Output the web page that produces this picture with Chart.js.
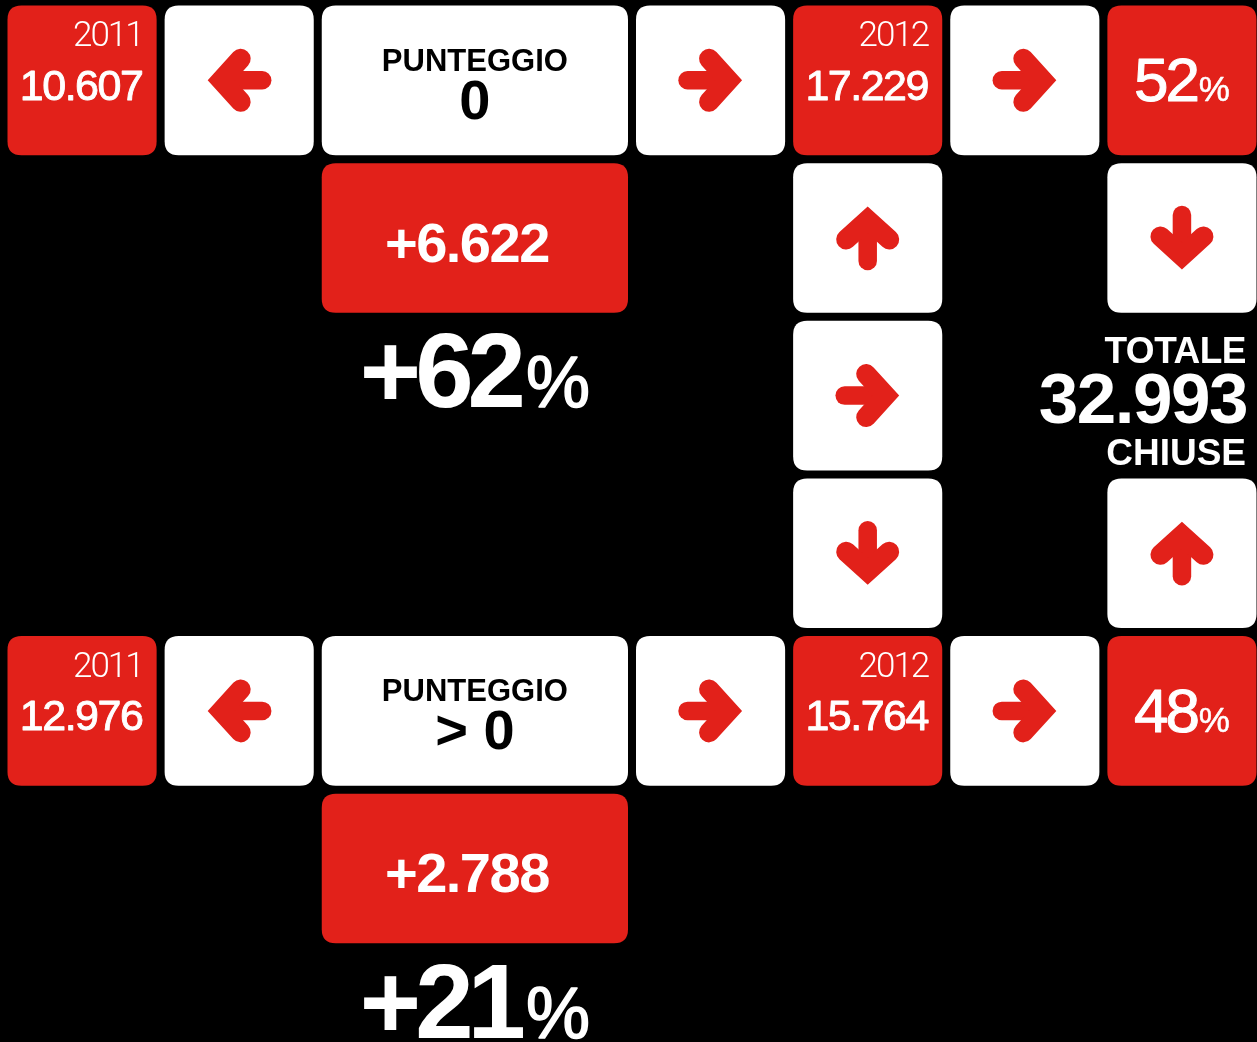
<!DOCTYPE html>
<html><head><meta charset="utf-8">
<script src="https://cdn.jsdelivr.net/npm/chart.js@4"></script>
<style>html,body{margin:0;padding:0;background:#000;overflow:hidden}#wrap{width:1257px;height:1042px}</style>
</head><body><div id="wrap"><canvas id="c" width="1257" height="1042"></canvas></div>
<script>
// ---- DATA ----
const years = ['2011', '2012'];
const scoreLabel = 'PUNTEGGIO';
const scoreGroups = ['0', '> 0'];
const closed2011 = [10607, 12976];
const closed2012 = [17229, 15764];
const changeAbs = [6622, 2788];
const changePct = [62, 21];
const share2012 = [52, 48];
const totalLabel = ['TOTALE', 'CHIUSE'];
const totalClosed = 32993;

// ---- LAYOUT (grid cells) ----
const RED = '#e2211a', WHITE = '#ffffff';
const tiles = [];
function addTile(col, row, span, fill, kind, payload) { tiles.push({col, row, span, fill, kind, payload}); }
[0, 1].forEach(g => {
  const r = g === 0 ? 0 : 4;
  addTile(0, r, 1, RED, 'yearValue', {year: years[0], value: closed2011[g]});
  addTile(1, r, 1, WHITE, 'arrow', {dir: 2});
  addTile(2, r, 2, WHITE, 'score', {label: scoreLabel, value: scoreGroups[g]});
  addTile(4, r, 1, WHITE, 'arrow', {dir: 0});
  addTile(5, r, 1, RED, 'yearValue', {year: years[1], value: closed2012[g]});
  addTile(6, r, 1, WHITE, 'arrow', {dir: 0});
  addTile(7, r, 1, RED, 'share', {pct: share2012[g]});
  addTile(2, r + 1, 2, RED, 'change', {value: changeAbs[g]});
});
addTile(5, 1, 1, WHITE, 'arrow', {dir: 3});
addTile(5, 2, 1, WHITE, 'arrow', {dir: 0});
addTile(5, 3, 1, WHITE, 'arrow', {dir: 1});
addTile(7, 1, 1, WHITE, 'arrow', {dir: 1});
addTile(7, 3, 1, WHITE, 'arrow', {dir: 3});

const pctLabels = [{col: 2, span: 2, row: 2, pct: changePct[0]}, {col: 2, span: 2, row: 6, pct: changePct[1]}];

function fmt(n) { return String(n).replace(/\B(?=(\d{3})+(?!\d))/g, '.'); }

const BOLD = '"Liberation Sans", Arial, Helvetica, sans-serif';
const LIGHT = 'Roboto, "Liberation Sans", sans-serif';

function rr(ctx, x, y, w, h, r) {
  ctx.beginPath();
  ctx.moveTo(x + r, y);
  ctx.lineTo(x + w - r, y); ctx.quadraticCurveTo(x + w, y, x + w, y + r);
  ctx.lineTo(x + w, y + h - r); ctx.quadraticCurveTo(x + w, y + h, x + w - r, y + h);
  ctx.lineTo(x + r, y + h); ctx.quadraticCurveTo(x, y + h, x, y + h - r);
  ctx.lineTo(x, y + r); ctx.quadraticCurveTo(x, y, x + r, y);
  ctx.closePath();
}
function drawArrow(ctx, cx, cy, dir) {
  ctx.save(); ctx.translate(cx, cy); ctx.rotate(dir * Math.PI / 2);
  ctx.strokeStyle = RED; ctx.lineCap = 'round'; ctx.lineJoin = 'miter'; ctx.miterLimit = 10;
  ctx.lineWidth = 18.5;
  ctx.beginPath(); ctx.moveTo(-23, 0); ctx.lineTo(16, 0); ctx.stroke();
  ctx.lineWidth = 20;
  ctx.beginPath(); ctx.moveTo(-1.5, -21.5); ctx.lineTo(18, 0); ctx.lineTo(-1.5, 21.5); ctx.stroke();
  ctx.restore();
}
function txt(ctx, s, x, y, font, align, ls, stroke) {
  ctx.font = font; ctx.textAlign = align || 'left'; ctx.textBaseline = 'alphabetic';
  ctx.letterSpacing = (ls || 0) + 'px';
  ctx.fillText(s, x, y);
  if (stroke) { ctx.lineWidth = stroke; ctx.strokeStyle = ctx.fillStyle; ctx.lineJoin = 'round'; ctx.strokeText(s, x, y); }
  ctx.letterSpacing = '0px';
}
function measure(ctx, s, font, ls) {
  ctx.font = font; ctx.letterSpacing = (ls || 0) + 'px';
  const w = ctx.measureText(s).width; ctx.letterSpacing = '0px'; return w;
}

const tilePlugin = {
  id: 'tiles',
  beforeDraw(chart) {
    const ctx = chart.ctx; ctx.save(); ctx.fillStyle = '#000'; ctx.fillRect(0, 0, chart.width, chart.height); ctx.restore();
  },
  afterDatasetsDraw(chart) {
    const ctx = chart.ctx, xs = chart.scales.x, ys = chart.scales.y;
    const meta = chart.getDatasetMeta(0);
    ctx.save();
    tiles.forEach((t, i) => {
      const left = xs.getPixelForValue(t.col) + 7.5, right = xs.getPixelForValue(t.col + t.span) - 0.5;
      const top = ys.getPixelForValue(t.row) + 5.5, bottom = ys.getPixelForValue(t.row + 1) - 2.5;
      // point element marks the cell centre; tile is inset asymmetrically
      const cx = meta.data[i].x + ((left + right) / 2 - xs.getPixelForValue(t.col + t.span / 2));
      const cy = meta.data[i].y + ((top + bottom) / 2 - ys.getPixelForValue(t.row + 0.5));
      ctx.fillStyle = t.fill;
      rr(ctx, left, top, right - left, bottom - top, 14); ctx.fill();
      const p = t.payload;
      if (t.kind === 'arrow') drawArrow(ctx, cx, cy, p.dir);
      else if (t.kind === 'yearValue') {
        ctx.fillStyle = WHITE;
        txt(ctx, p.year, right - 14, top + 40.5, '300 35px ' + LIGHT, 'right', -2);
        txt(ctx, fmt(p.value), cx - 1, top + 94, '43px ' + BOLD, 'center', -1.5, 0.9);
      } else if (t.kind === 'score') {
        ctx.fillStyle = '#000';
        txt(ctx, p.label, cx, top + 65, 'bold 31px ' + BOLD, 'center', 0);
        txt(ctx, p.value, cx, top + 113, 'bold 56px ' + BOLD, 'center', 0);
      } else if (t.kind === 'share') {
        ctx.fillStyle = WHITE;
        const f1 = '62px ' + BOLD, f2 = '35px ' + BOLD;
        const s1 = String(p.pct), w1 = measure(ctx, s1, f1, -3), w2 = measure(ctx, '%', f2, 0);
        const x0 = cx - (w1 + 2 + w2) / 2;
        txt(ctx, s1, x0, top + 95.5, f1, 'left', -3, 1);
        txt(ctx, '%', x0 + w1 + 2, top + 95.5, f2, 'left', 0, 0.5);
      } else if (t.kind === 'change') {
        ctx.fillStyle = WHITE;
        txt(ctx, '+' + fmt(p.value), cx - 8, top + 98.5, 'bold 56px ' + BOLD, 'center', -1.5);
      }
    });
    // percentage change labels
    pctLabels.forEach(l => {
      const cx = xs.getPixelForValue(l.col + l.span / 2) + 3.5;
      const base = ys.getPixelForValue(l.row) + 92;
      const f1 = 'bold 105px ' + BOLD, f2 = '72px ' + BOLD;
      const s1 = '+' + l.pct, w1 = measure(ctx, s1, f1, -6), w2 = measure(ctx, '%', f2, 0);
      const x0 = cx - (w1 + 6 + w2) / 2;
      ctx.fillStyle = WHITE;
      txt(ctx, s1, x0, base, f1, 'left', -6);
      txt(ctx, '%', x0 + w1 + 6, base, f2, 'left', 0, 1.5);
    });
    // total block
    const rx = xs.getPixelForValue(8) - 11, rt = ys.getPixelForValue(2);
    ctx.fillStyle = WHITE;
    txt(ctx, totalLabel[0], rx, rt + 48, 'bold 37px ' + BOLD, 'right', -0.5);
    txt(ctx, fmt(totalClosed), rx + 1, rt + 108, 'bold 71px ' + BOLD, 'right', -1.5);
    txt(ctx, totalLabel[1], rx, rt + 150, 'bold 37px ' + BOLD, 'right', 0);
    ctx.restore();
  }
};

new Chart(document.getElementById('c'), {
  type: 'scatter',
  data: { datasets: [{ data: tiles.map(t => ({x: t.col + t.span / 2, y: t.row + 0.5})), pointRadius: 0, pointHoverRadius: 0 }] },
  options: {
    responsive: false, animation: false, events: [],
    layout: { padding: 0 },
    scales: {
      x: { type: 'linear', min: 0, max: 8, display: false },
      y: { type: 'linear', min: 0, max: 6.61, reverse: true, display: false }
    },
    plugins: { legend: { display: false }, tooltip: { enabled: false } }
  },
  plugins: [tilePlugin]
});
</script></body></html>
